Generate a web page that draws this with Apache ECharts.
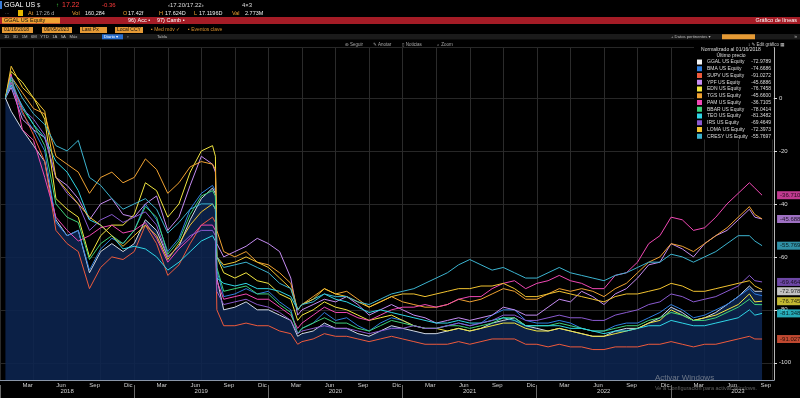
<!DOCTYPE html>
<html><head><meta charset="utf-8">
<script src="https://cdn.jsdelivr.net/npm/echarts/dist/echarts.min.js"></script>
<style>html,body{margin:0;padding:0;background:#000;}#c{width:800px;height:398px;}</style>
</head><body><div id="c"></div>
<script>
// ---- data ----
const dates = [
'2018-01-16','2018-02-01','2018-03-01','2018-04-01','2018-05-01','2018-06-01','2018-07-01','2018-08-01','2018-09-01','2018-10-01','2018-11-01','2018-12-01',
'2019-01-01','2019-02-01','2019-03-01','2019-04-01','2019-05-01','2019-06-01','2019-07-01','2019-08-01','2019-08-09','2019-08-13','2019-09-01','2019-10-01','2019-11-01','2019-12-01',
'2020-01-01','2020-02-01','2020-03-01','2020-03-20','2020-04-01','2020-05-01','2020-06-01','2020-07-01','2020-08-01','2020-09-01','2020-10-01','2020-11-01','2020-12-01',
'2021-01-01','2021-02-01','2021-03-01','2021-04-01','2021-05-01','2021-06-01','2021-07-01','2021-08-01','2021-09-01','2021-10-01','2021-11-01','2021-12-01',
'2022-01-01','2022-02-01','2022-03-01','2022-04-01','2022-05-01','2022-06-01','2022-07-01','2022-08-01','2022-09-01','2022-10-01','2022-11-01','2022-12-01',
'2023-01-01','2023-02-01','2023-03-01','2023-04-01','2023-05-01','2023-06-01','2023-07-01','2023-08-01','2023-08-16','2023-09-05'];

const seriesNames = ['GGAL US Equity','BMA US Equity','SUPV US Equity','YPF US Equity','EDN US Equity','TGS US Equity','PAM US Equity','BBAR US Equity','TEO US Equity','IRS US Equity','LOMA US Equity','CRESY US Equity'];

const ggal = [0,-5,-12,-18,-24,-46,-52,-50,-66,-58,-55,-58,
 -55,-46,-50,-60,-56,-46,-38,-34,-36,-68,-80,-79,-77,-80,
 -80,-82,-84,-90,-89,-88,-85,-87,-87,-89,-90,-88,-86,
 -87,-88,-89,-89,-88,-87,-88,-87,-85,-84,-83,-86,
 -87,-88,-87,-88,-89,-90,-90,-88,-87,-87,-85,-83,
 -79,-81,-84,-83,-81,-78,-75,-71,-73,-72.9789];
const bma = [0,5,-6,-12,-20,-47,-52,-50,-65,-57,-53,-55,
 -50,-40,-46,-58,-53,-42,-36,-33,-35,-65,-75,-74,-72,-74,
 -73,-77,-80,-89,-87,-85,-81,-84,-83,-86,-88,-85,-83,
 -84,-86,-87,-87,-86,-85,-86,-85,-82,-80,-80,-84,
 -85,-85,-84,-85,-87,-88,-88,-86,-85,-85,-83,-81,
 -78,-80,-83,-82,-80,-78,-75,-72,-74,-74.6686];
const supv = [0,6,-5,-14,-24,-50,-55,-58,-72,-64,-60,-61,
 -58,-48,-55,-67,-63,-55,-48,-45,-47,-80,-86,-86,-85,-86,
 -86,-88,-89,-93,-92,-91,-89,-90,-90,-91,-92,-91,-90,
 -91,-92,-93,-93,-93,-92,-93,-92,-91,-91,-91,-93,
 -93,-94,-93,-94,-94,-95,-95,-94,-94,-94,-93,-93,
 -92,-93,-94,-93,-93,-92,-91,-90,-91,-91.0272];
const ypf = [0,4,-8,-12,-15,-30,-33,-38,-46,-40,-38,-44,
 -45,-40,-37,-50,-45,-33,-22,-25,-28,-55,-60,-58,-56,-53,
 -55,-58,-68,-82,-80,-78,-76,-77,-75,-78,-82,-80,-78,
 -80,-82,-83,-85,-84,-83,-84,-83,-82,-79,-80,-82,
 -82,-79,-76,-77,-73,-75,-78,-74,-72,-68,-63,-62,
 -55,-57,-60,-55,-52,-50,-46,-42,-45,-45.6886];
const edn = [0,10,6,0,-8,-38,-42,-45,-60,-52,-48,-48,
 -44,-32,-35,-45,-40,-28,-20,-18,-22,-60,-66,-68,-66,-69,
 -70,-74,-76,-84,-82,-80,-77,-79,-80,-82,-84,-83,-82,
 -84,-86,-87,-87,-88,-87,-88,-87,-86,-85,-85,-87,
 -88,-88,-87,-88,-89,-90,-90,-89,-88,-87,-85,-84,
 -80,-82,-84,-83,-82,-80,-78,-74,-77,-76.7458];
const tgs = [0,8,2,-4,-6,-22,-25,-28,-36,-30,-28,-32,
 -30,-23,-27,-36,-32,-26,-24,-25,-27,-50,-58,-60,-58,-62,
 -63,-66,-70,-80,-78,-75,-72,-74,-73,-76,-79,-77,-75,
 -77,-78,-79,-79,-78,-76,-77,-76,-74,-72,-73,-76,
 -76,-74,-72,-73,-72,-73,-75,-72,-70,-66,-62,-60,
 -55,-56,-58,-55,-52,-49,-45,-41,-44,-45.66];
const pam = [0,9,-12,-16,-30,-45,-50,-54,-52,-49,-48,-51,
 -50,-47,-53,-62,-57,-53,-48,-48,-50,-69,-76,-75,-74,-76,
 -76,-79,-82,-87,-85,-82,-79,-81,-81,-83,-84,-82,-80,
 -79,-79,-78,-79,-78,-76,-75,-75,-72,-70,-69,-72,
 -70,-69,-67,-69,-70,-72,-72,-67,-66,-62,-55,-52,
 -45,-46,-50,-49,-45,-40,-36,-32,-34,-36.7105];
const bbar = [0,7,-4,-10,-18,-40,-45,-47,-61,-55,-52,-55,
 -50,-41,-45,-59,-54,-44,-37,-35,-37,-64,-73,-72,-71,-74,
 -74,-78,-81,-89,-87,-85,-83,-85,-85,-87,-88,-86,-84,
 -85,-86,-87,-87,-86,-86,-87,-86,-85,-83,-83,-86,
 -86,-86,-85,-86,-87,-88,-88,-87,-86,-86,-84,-83,
 -81,-82,-84,-84,-83,-81,-79,-76,-78,-78.0414];
const teo = [0,5,-3,-10,-15,-24,-28,-35,-46,-48,-52,-57,
 -56,-57,-60,-65,-62,-58,-54,-52,-54,-68,-70,-71,-70,-72,
 -72,-73,-75,-80,-78,-76,-74,-76,-77,-79,-81,-80,-81,
 -82,-83,-84,-85,-85,-84,-85,-85,-84,-83,-84,-86,
 -86,-86,-86,-87,-87,-88,-89,-88,-88,-87,-86,-86,
 -84,-85,-86,-86,-85,-84,-83,-80,-82,-81.3482];
const irs = [0,6,-4,-8,-14,-30,-36,-40,-50,-46,-44,-47,
 -45,-43,-48,-60,-56,-52,-50,-50,-52,-73,-78,-77,-76,-78,
 -79,-81,-84,-89,-88,-87,-86,-87,-87,-88,-89,-88,-87,
 -87,-86,-87,-87,-86,-85,-86,-85,-84,-82,-82,-84,
 -84,-83,-82,-83,-83,-84,-84,-82,-81,-80,-78,-77,
 -74,-75,-77,-76,-75,-73,-71,-67,-69,-69.4649];
const loma = [0,12,4,0,-5,-30,-35,-40,-45,-48,-52,-56,
 -52,-48,-52,-61,-55,-48,-43,-40,-42,-60,-63,-62,-60,-62,
 -64,-68,-72,-80,-78,-76,-72,-74,-75,-77,-79,-77,-75,
 -74,-74,-75,-74,-73,-72,-72,-71,-71,-70,-72,-75,
 -75,-74,-73,-74,-75,-76,-77,-75,-74,-74,-73,-72,
 -70,-71,-73,-73,-72,-71,-70,-69,-71,-72.3973];
const cresy = [0,8,0,-6,-10,-18,-20,-16,-30,-33,-38,-42,
 -40,-38,-42,-51,-47,-42,-40,-40,-42,-60,-64,-63,-62,-64,
 -66,-70,-72,-80,-78,-77,-74,-75,-75,-77,-78,-76,-74,
 -73,-72,-70,-68,-66,-63,-61,-63,-65,-64,-66,-68,
 -68,-66,-64,-66,-67,-68,-69,-67,-66,-64,-62,-62,
 -59,-60,-62,-60,-58,-55,-52,-52,-54,-55.7697];

const monthLabels = ['Dic','Mar','Jun','Sep'];
const yearLabels = ['2018','2019','2020','2021','2022','2023'];

// ---- styles ----
const colors = ['#f2f2f2','#2f7fe0','#ee5a3c','#c58cf2','#f2e640','#f0a232','#f048b4','#3fd27a','#2fd6e6','#8a5ad0','#f2c330','#3cb4d0'];
const F = '"Liberation Sans","DejaVu Sans",Arial,sans-serif';

function monthPos(s){const p=s.split('-').map(Number);const dim=new Date(p[0],p[1],0).getDate();return (p[0]-2018)*12+(p[1]-1)+(p[2]-1)/dim;}
const xs = dates.map(monthPos);
const all = [ggal,bma,supv,ypf,edn,tgs,pam,bbar,teo,irs,loma,cresy];
const lastVal = {};
seriesNames.forEach((n,i)=>{lastVal[n]=all[i][all[i].length-1];});

const series = all.map((vals,i)=>{
  const s = {type:'line', name:seriesNames[i], xAxisIndex:0, yAxisIndex:0,
    data: vals.map((v,j)=>[xs[j],v]), showSymbol:false, symbol:'none',
    lineStyle:{width:1,color:colors[i]}, itemStyle:{color:colors[i]}, z: i===0?1:2};
  if(i===0){ s.areaStyle={color:'rgb(12,36,80)',opacity:0.88,origin:'start'}; s.lineStyle={width:1,color:'#cfd8e6'}; }
  return s;
});
const li = xs.length-1;
series.push({type:'scatter', name:'tags', xAxisIndex:0, yAxisIndex:0, symbolSize:0, silent:true, z:10,
  data: all.map((vals,i)=>({value:[xs[li],vals[li]], label:{backgroundColor:colors[i]}})),
  label:{show:true, position:'right', distance:15, fontSize:6, fontFamily:F, color:'#000', padding:[1,3,1,3],
    formatter:p=>p.value[1].toFixed(4)},
  labelLayout:{hideOverlap:true}});

function txt(x,y,s,fill,size,align,weight){
  return {type:'text', x:x, y:y, silent:true, z:100,
    style:{text:s, fill:fill, font:(weight||'normal')+' '+(size||6)+'px '+F, align:align||'left', verticalAlign:'middle', textAlign:align||'left', textVerticalAlign:'middle'}};
}
function box(x,y,w,h,fill,z){return {type:'rect', silent:true, z:z||99, shape:{x:x,y:y,width:w,height:h}, style:{fill:fill}};}
const OR='#f0a232', OB='#e59a35';
const graphics = [
  box(0,1,2,8,'#3a7bd5'),
  txt(4,5,'GGAL US','#fff',7),
  txt(37,5,'$','#ddd',6),
  txt(56,5,'↑','#3fd23f',6),
  txt(62,5,'17.22','#ff3b3b',7),
  txt(102,5,'-0.36','#ff3b3b',6),
  txt(168,5,'‹17.20/17.22›','#ddd',6),
  txt(242,5,'4×3','#ddd',6),
  txt(5,13,'...','#888',5),
  box(18,10,5,6,'#e6b800'),
  txt(28,13,'At','#f0a232',5.5), txt(36,13,'17:26 d','#aaa',5.5),
  txt(72,13,'Vol','#f0a232',5.5), txt(85,13,'160,284','#eee',5.5),
  txt(123,13,'O','#f0a232',5.5), txt(128,13,'17.42f','#eee',5.5),
  txt(159,13,'H','#f0a232',5.5), txt(165,13,'17.624D','#eee',5.5),
  txt(194,13,'L','#f0a232',5.5), txt(199,13,'17.1196D','#eee',5.5),
  txt(232,13,'Val','#f0a232',5.5), txt(245,13,'2.773M','#eee',5.5),
  box(0,17,800,7,'#a51c26'),
  box(2,17.5,58,6,OR),
  txt(4,20.5,'GGAL US Equity','#111',5.5),
  txt(128,20.5,'96) Acc •','#fff',5.5),
  txt(157,20.5,'97) Camb •','#fff',5.5),
  txt(797,20.5,'Gráfico de líneas','#fff',5.5,'right'),
  box(2,27,31,6,OB), txt(4,30,'01/16/2018','#111',5),
  box(42,27,30,6,OB), txt(44,30,'09/05/2023','#111',5),
  box(80,27,27,6,OB), txt(82,30,'Last Px','#111',5),
  box(115,27,28,6,OB), txt(117,30,'Local CCY','#111',5),
  txt(151,30,'▪ Med móv ✓','#d9902e',5),
  txt(188,30,'▪ Eventos clave','#d9902e',5),
  box(0,34,800,5.5,'#1b1b1b'),
  txt(4,36.8,'1D   3D   1M   6M   YTD   1A   5A   Máx','#bbb',4.2),
  box(102,34.3,21,5,'#2a6fd0'), txt(104,36.8,'Diario ▾','#fff',4.2),
  txt(127,36.8,'▫','#bbb',4.5),
  txt(157,36.8,'Tabla','#bbb',4.2),
  txt(671,36.8,'+ Datos pertinentes ▾','#bbb',4.2),
  box(722,34.3,33,5,OB),
  txt(797,36.8,'»','#bbb',5,'right'),
  txt(345,44.5,'⊕ Seguir','#aaa',4.5),
  txt(373,44.5,'✎ Anotar','#aaa',4.5),
  txt(402,44.5,'▯ Noticias','#aaa',4.5),
  txt(437,44.5,'⌕ Zoom','#aaa',4.5),
  txt(748,44.5,'↕ ✎ Edit gráfico ▦','#ccc',4.5),
  box(694,46.5,79,93,'#000',3),
  txt(731,50,'Normalizado al 01/16/2018','#ddd',5,'center'),
  txt(731,55.5,'Último precio','#ddd',5,'center'),
  txt(655,378,'Activar Windows','rgba(190,190,190,0.55)',8),
  txt(655,388,'Ve a Configuración para activar Windows.','rgba(190,190,190,0.5)',5.5)
];

const chart = echarts.init(document.getElementById('c'), null, {renderer:'canvas'});
chart.setOption({
  backgroundColor:'#000',
  animation:false,
  textStyle:{fontFamily:F},
  grid:[
    {left:0, right:26, top:47.7, bottom:18, containLabel:false, outerBoundsMode:'none'},
    {left:0, width:805, top:47.7, bottom:13, containLabel:false, outerBoundsMode:'none'}
  ],
  xAxis:[
    {gridIndex:0, type:'value', min:0, max:69.2, interval:3,
     axisLine:{show:true, onZero:false, lineStyle:{color:'#8a96a8', width:1}},
     axisTick:{show:false},
     axisLabel:{color:'#cfcfcf', fontSize:6, margin:2, padding:[0,12,0,0], showMinLabel:false, showMaxLabel:false,
       formatter:v=>{const k=Math.round(v); if(Math.abs(v-k)>1e-6||k%3!==0||k===0) return ''; return monthLabels[(k/3)%4];}},
     splitLine:{show:true, lineStyle:{color:'#2b2b2b', width:1}}},
    {gridIndex:1, type:'category', data:yearLabels, boundaryGap:true,
     axisLine:{show:false, onZero:false}, axisTick:{show:true, length:13, lineStyle:{color:'#6a6a6a'}},
     axisLabel:{color:'#cfcfcf', fontSize:6, margin:3}, splitLine:{show:false}}
  ],
  yAxis:[
    {gridIndex:0, type:'value', position:'right', min:-106.5, max:19, splitNumber:6,
     axisLine:{show:true, onZero:false, lineStyle:{color:'#b5b5b5', width:1}},
     axisTick:{show:true, length:3, lineStyle:{color:'#ddd'}},
     axisLabel:{color:'#ddd', fontSize:6, margin:5, showMinLabel:false, showMaxLabel:false,
       formatter:v=>(Math.abs(v%20)<1e-6 ? String(v) : '')},
     splitLine:{show:true, lineStyle:{color:'#272727', width:1}}},
    {gridIndex:1, type:'value', show:false}
  ],
  legend:{data:seriesNames, orient:'vertical', left:697, top:59, itemWidth:5, itemHeight:5, itemGap:0.75,
    icon:'rect', selectedMode:false, padding:0, z:6,
    textStyle:{color:'#ddd', fontSize:5, lineHeight:6,
      rich:{n:{width:43, fontSize:5, lineHeight:6, color:'#ddd'}, v:{width:21, align:'right', fontSize:5, lineHeight:6, color:'#ddd'}}},
    formatter:name=>'{n|'+name+'}{v|'+lastVal[name].toFixed(4)+'}'},
  graphic:graphics,
  series:series
});
</script></body></html>
